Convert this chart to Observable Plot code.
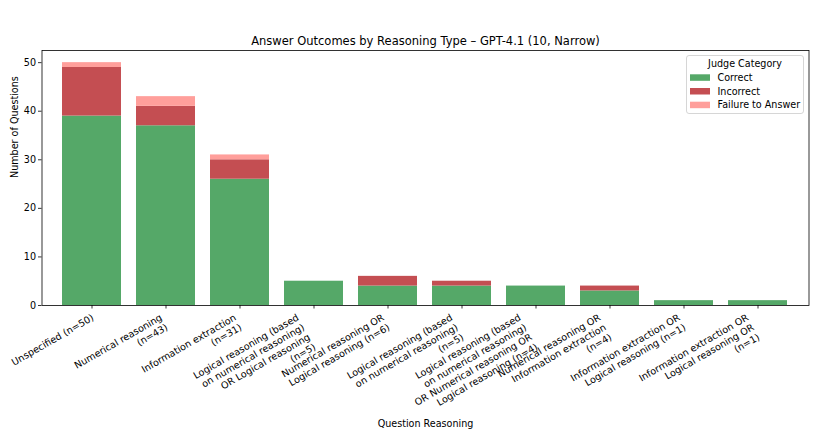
<!DOCTYPE html>
<html>
<head>
<meta charset="utf-8">
<script src="https://cdn.jsdelivr.net/npm/d3@7"></script>
<script src="https://cdn.jsdelivr.net/npm/@observablehq/plot@0.6"></script>
<style>
  body { margin: 0; background: #fff; }
  #chart { position: relative; width: 816px; height: 435px; font-family: "DejaVu Sans", sans-serif; }
  #legend { position: absolute; left: 686px; top: 55px; }
</style>
</head>
<body>
<div id="chart"></div>
<script>
// Reasoning types (tick labels, wrapped) and answer outcome counts per type
const categories = [
  "Unspecified (n=50)",
  "Numerical reasoning\n(n=43)",
  "Information extraction\n(n=31)",
  "Logical reasoning (based\non numerical reasoning)\nOR Logical reasoning\n(n=5)",
  "Numerical reasoning OR\nLogical reasoning (n=6)",
  "Logical reasoning (based\non numerical reasoning)\n(n=5)",
  "Logical reasoning (based\non numerical reasoning)\nOR Numerical reasoning OR\nLogical reasoning (n=4)",
  "Numerical reasoning OR\nInformation extraction\n(n=4)",
  "Information extraction OR\nLogical reasoning (n=1)",
  "Information extraction OR\nLogical reasoning OR\n(n=1)"
];
const correct   = [39, 37, 26, 5, 4, 4, 4, 3, 1, 1];
const incorrect = [10, 4, 4, 0, 2, 1, 0, 1, 0, 0];
const failure   = [1, 2, 1, 0, 0, 0, 0, 0, 0, 0];
const outcomes  = ["Correct", "Incorrect", "Failure to Answer"];
const colors    = ["#55a868", "#c44e52", "#ff9f9b"];
const yTicks    = [0, 10, 20, 30, 40, 50];

const title  = "Answer Outcomes by Reasoning Type – GPT-4.1 (10, Narrow)";
const xLabel = "Question Reasoning";
const yLabel = "Number of Questions";
const legendTitle = "Judge Category";

// Long-format rows, stacked in outcome order
const series = [correct, incorrect, failure];
const rows = [];
categories.forEach((c, i) => {
  outcomes.forEach((o, k) => rows.push({category: c, outcome: o, count: series[k][i]}));
});

const fontSize = 9.6;
const lineStep = 11.3;

// Rotated, right-aligned multi-line tick labels; block shifted left by its height
const tickLabelMarks = categories.map(c => {
  const n = c.split("\n").length;
  return Plot.text([c], {
    x: d => d,
    frameAnchor: "bottom",
    text: d => d,
    rotate: -30,
    textAnchor: "end",
    lineAnchor: "top",
    lineHeight: lineStep / fontSize,
    dx: -(0.5 * (n - 1) * lineStep + 1.5),
    dy: 7,
    fill: "#000"
  });
});

const chart = Plot.plot({
  width: 816,
  height: 435,
  marginTop: 50,
  marginBottom: 130,
  marginLeft: 41.5,
  marginRight: 7.5,
  style: {fontFamily: "DejaVu Sans, sans-serif", fontSize: fontSize + "px", color: "#000", background: "#fff"},
  x: {type: "band", domain: categories, paddingInner: 0.2, paddingOuter: 0.245, align: 0.5},
  y: {domain: [0, 52.5]},
  color: {domain: outcomes, range: colors},
  marks: [
    Plot.barY(rows, {x: "category", y: "count", fill: "outcome", order: outcomes}),
    Plot.axisY({ticks: yTicks, tickSize: 3.5, tickPadding: 2.5, label: null, strokeWidth: 0.8}),
    Plot.axisX({tickFormat: () => "", tickSize: 3.5, label: null, strokeWidth: 0.8}),
    ...tickLabelMarks,
    Plot.frame({stroke: "#000", strokeWidth: 0.8}),
    Plot.text([title], {frameAnchor: "top", lineAnchor: "bottom", dy: -6, fontSize: 11.5, fill: "#000"}),
    Plot.text([yLabel], {frameAnchor: "left", rotate: -90, lineAnchor: "middle", dx: -27.5, fill: "#000"}),
    Plot.text([xLabel], {frameAnchor: "bottom", lineAnchor: "middle", dy: 118, fill: "#000"})
  ]
});
document.getElementById("chart").appendChild(chart);

// Legend box drawn as a small overlay
const lg = d3.select("#chart").append("svg")
  .attr("id", "legend")
  .attr("width", 119).attr("height", 60)
  .style("font-family", "DejaVu Sans, sans-serif")
  .style("font-size", fontSize + "px");
lg.append("rect")
  .attr("x", 0.5).attr("y", 0.5).attr("width", 117).attr("height", 58).attr("rx", 2.5)
  .attr("fill", "#fff").attr("fill-opacity", 0.8).attr("stroke", "#cccccc").attr("stroke-width", 0.8);
lg.append("text").attr("x", 59).attr("y", 11.5).attr("text-anchor", "middle").attr("fill", "#000").text(legendTitle);
outcomes.forEach((o, k) => {
  const y0 = 19.3 + k * 13.7;
  lg.append("rect").attr("x", 4).attr("y", y0).attr("width", 20).attr("height", 6.5).attr("fill", colors[k]);
  lg.append("text").attr("x", 31.5).attr("y", y0 + 6.7).attr("fill", "#000").text(o);
});
</script>
</body>
</html>
